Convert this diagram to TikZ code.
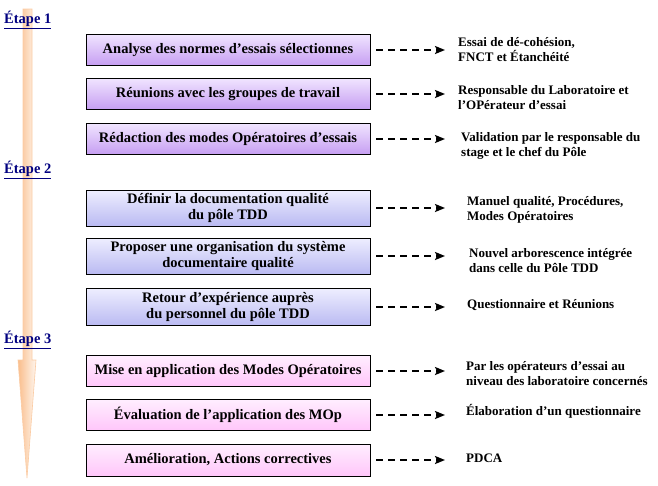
\documentclass[tikz,border=0pt]{standalone}
\usepackage{fontspec}
\setmainfont{Liberation Serif}
\usepackage{tikz}
\usetikzlibrary{arrows.meta,positioning}
\definecolor{navyblue}{RGB}{0,0,128}
\definecolor{viotop}{RGB}{240,228,255}
\definecolor{viobot}{RGB}{198,158,242}
\definecolor{bleutop}{RGB}{238,238,255}
\definecolor{bleubot}{RGB}{186,186,242}
\definecolor{rosetop}{RGB}{255,238,255}
\definecolor{rosebot}{RGB}{255,198,250}
\definecolor{peche}{RGB}{250,190,140}

\tikzset{
  tache/.style={draw=black, line width=0.8pt, minimum width=284pt, align=center,
    font=\bfseries\fontsize{14.5}{16}\selectfont},
  tacheA/.style={tache, top color=viotop, bottom color=viobot},
  tacheB/.style={tache, top color=bleutop, bottom color=bleubot},
  tacheC/.style={tache, top color=rosetop, bottom color=rosebot},
  resultat/.style={anchor=west, inner sep=0pt, align=left,
    font=\bfseries\fontsize{13}{15}\selectfont},
  fleche/.style={line width=2pt, dash pattern=on 7pt off 5pt,
    -{Stealth[length=10pt,width=8pt,inset=2pt]}}
}

\begin{document}
\begin{tikzpicture}[x=1pt, y=-1pt]
   \useasboundingbox (0,0) rectangle (658,485);
   % grande fleche du temps
   \shade[left color=peche, right color=peche!15, draw=peche!80, line width=0.6pt]
     (23,9) -- (32,9) -- (32,360) -- (36,360) -- (27,478) -- (18,360) -- (23,360) -- cycle;
   \begin{scope}[every node/.style={anchor=west, inner sep=0pt, text=navyblue,
       font=\bfseries\fontsize{14.5}{16}\selectfont}]
    \node (e1) at (4,20) {\underline{Étape 1}};
    \node (e2) at (4,170) {\underline{Étape 2}};
    \node (e3) at (4,340) {\underline{Étape 3}};
   \end{scope}
   % taches
   \node[tacheA, minimum height=31pt] (b1) at (228,50) {Analyse des normes d'essais sélectionnes};
   \node[tacheA, minimum height=31pt] (b2) at (228,94) {Réunions avec les groupes de travail};
   \node[tacheA, minimum height=31pt] (b3) at (228,139) {Rédaction des modes Opératoires d'essais};
   \node[tacheB, minimum height=36pt] (b4) at (228,208) {Définir la documentation qualité\\du pôle TDD};
   \node[tacheB, minimum height=36pt] (b5) at (228,256) {Proposer une organisation du système\\documentaire qualité};
   \node[tacheB, minimum height=37pt] (b6) at (228,307) {Retour d'expérience auprès\\du personnel du pôle TDD};
   \node[tacheC, minimum height=31pt] (b7) at (228,371) {Mise en application des Modes Opératoires};
   \node[tacheC, minimum height=31pt] (b8) at (228,415) {Évaluation de l'application des MOp};
   \node[tacheC, minimum height=32pt] (b9) at (228,460) {Amélioration, Actions correctives};
   % resultats
   \node[resultat] (r1) at (458,50) {Essai de dé-cohésion,\\FNCT et Étanchéité};
   \node[resultat] (r2) at (458,98) {Responsable du Laboratoire et\\l'OPérateur d'essai};
   \node[resultat] (r3) at (461,146) {Validation par le responsable du\\stage et le chef du Pôle};
   \node[resultat] (r4) at (467,210) {Manuel qualité, Procédures,\\Modes Opératoires};
   \node[resultat] (r5) at (469,261) {Nouvel arborescence intégrée\\dans celle du  Pôle TDD};
   \node[resultat] (r6) at (467,305) {Questionnaire et Réunions};
   \node[resultat] (r7) at (466,374) {Par les opérateurs d'essai au\\niveau des laboratoire concernés};
   \node[resultat] (r8) at (466,411) {Élaboration d'un questionnaire};
   \node[resultat] (r9) at (466,458) {PDCA};
   \coordinate (bout) at (445,0);
   \draw[fleche] ([xshift=6pt]b1.east) -- (b1.east -| bout);
   \draw[fleche] ([xshift=6pt]b2.east) -- (b2.east -| bout);
   \draw[fleche] ([xshift=6pt]b3.east) -- (b3.east -| bout);
   \draw[fleche] ([xshift=6pt]b4.east) -- (b4.east -| bout);
   \draw[fleche] ([xshift=6pt]b5.east) -- (b5.east -| bout);
   \draw[fleche] ([xshift=6pt]b6.east) -- (b6.east -| bout);
   \draw[fleche] ([xshift=6pt]b7.east) -- (b7.east -| bout);
   \draw[fleche] ([xshift=6pt]b8.east) -- (b8.east -| bout);
   \draw[fleche] ([xshift=6pt]b9.east) -- (b9.east -| bout);
\end{tikzpicture}
\end{document}
